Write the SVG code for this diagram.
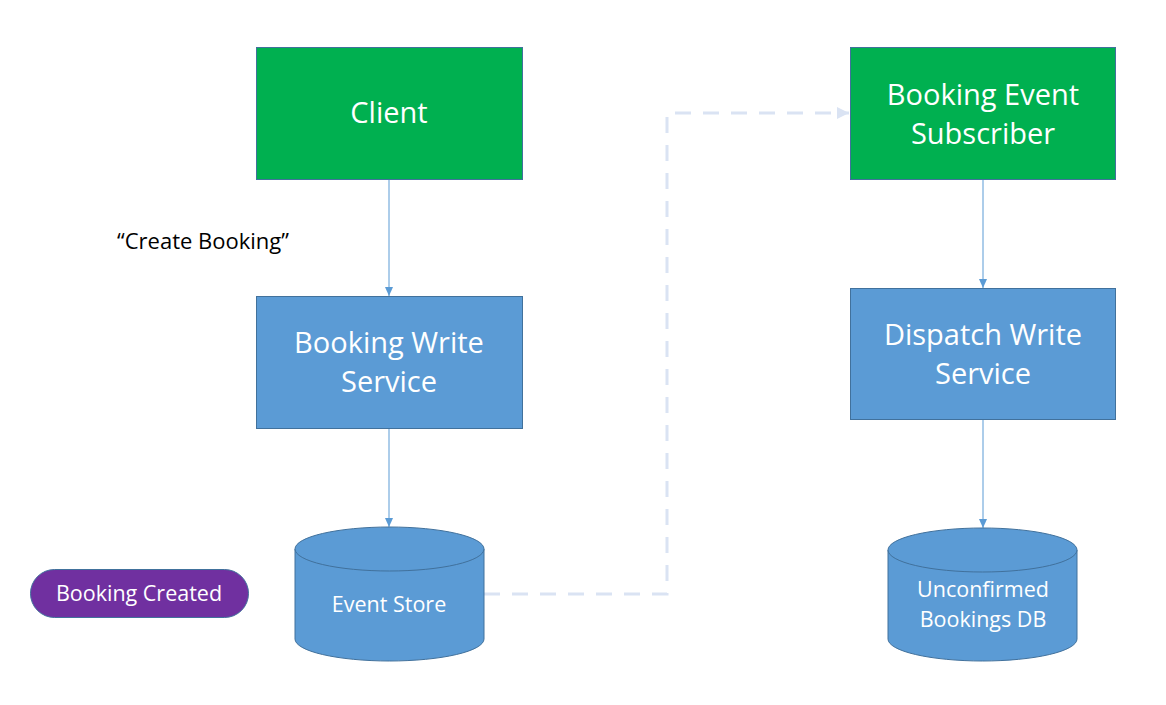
<svg xmlns="http://www.w3.org/2000/svg" width="1166" height="705" viewBox="0 0 1166 705">
<defs>
<style>
.green{fill:#00B050;stroke:#41719C;stroke-width:1}
.blue{fill:#5B9BD5;stroke:#41719C;stroke-width:1}
.lbl{font-family:"Open Sans","Noto Sans",sans-serif;fill:#FFFFFF;text-anchor:middle}
.big{font-size:29px}
.small{font-size:21.5px}
.conn{stroke:#5B9BD5;stroke-width:1;fill:none}
.dash{stroke:#DAE3F3;stroke-width:3;fill:none;stroke-dasharray:16 12}
</style>
<marker id="ah" markerWidth="10" markerHeight="10" refX="9" refY="5" orient="auto" markerUnits="userSpaceOnUse">
<path d="M0,1 L9,5 L0,9 Z" fill="#5B9BD5"/>
</marker>
<marker id="ahd" markerWidth="14" markerHeight="14" refX="12" refY="7" orient="auto" markerUnits="userSpaceOnUse">
<path d="M0,1 L12,7 L0,13 Z" fill="#DAE3F3"/>
</marker>
</defs>
<rect width="1166" height="705" fill="#FFFFFF"/>
<g id="connectors">
<line class="conn" x1="389" y1="179" x2="389" y2="296" marker-end="url(#ah)"/>
<line class="conn" x1="389" y1="428" x2="389" y2="527" marker-end="url(#ah)"/>
<line class="conn" x1="983" y1="179" x2="983" y2="288" marker-end="url(#ah)"/>
<line class="conn" x1="983" y1="419" x2="983" y2="528" marker-end="url(#ah)"/>
<path class="dash" d="M484,594 L667,594 L667,113 L849,113" marker-end="url(#ahd)"/>
</g>
<g id="client">
<rect class="green" x="256.5" y="47.5" width="266" height="132"/>
<text class="lbl big" x="389" y="123">Client</text>
</g>
<g id="booking-write-service">
<rect class="blue" x="256.5" y="296.5" width="266" height="132"/>
<text class="lbl big" x="389" y="353">Booking Write</text>
<text class="lbl big" x="389" y="392">Service</text>
</g>
<g id="booking-event-subscriber">
<rect class="green" x="850.5" y="47.5" width="265" height="132"/>
<text class="lbl big" x="983" y="105">Booking Event</text>
<text class="lbl big" x="983" y="144">Subscriber</text>
</g>
<g id="dispatch-write-service">
<rect class="blue" x="850.5" y="288.5" width="265" height="131"/>
<text class="lbl big" x="983" y="345">Dispatch Write</text>
<text class="lbl big" x="983" y="384">Service</text>
</g>
<g id="event-store">
<path class="blue" d="M295,549 A94.5,22 0 0 1 484,549 L484,639 A94.5,22 0 0 1 295,639 Z"/>
<path class="blue" d="M295,549 A94.5,22 0 0 0 484,549" fill="none"/>
<text class="lbl small" x="389" y="612">Event Store</text>
</g>
<g id="unconfirmed-bookings-db">
<path class="blue" d="M888,550 A94.5,22 0 0 1 1077,550 L1077,639 A94.5,22 0 0 1 888,639 Z"/>
<path class="blue" d="M888,550 A94.5,22 0 0 0 1077,550" fill="none"/>
<text class="lbl small" x="983" y="597">Unconfirmed</text>
<text class="lbl small" x="983" y="627">Bookings DB</text>
</g>
<g id="booking-created">
<rect x="30.5" y="569.5" width="218" height="48" rx="24" ry="24" fill="#7030A0" stroke="#41719C" stroke-width="1"/>
<text class="lbl small" x="139" y="601">Booking Created</text>
</g>
<g id="create-booking-label">
<text x="203" y="249" font-family="'Open Sans','Noto Sans',sans-serif" font-size="22" fill="#000000" text-anchor="middle">“Create Booking”</text>
</g>
</svg>
